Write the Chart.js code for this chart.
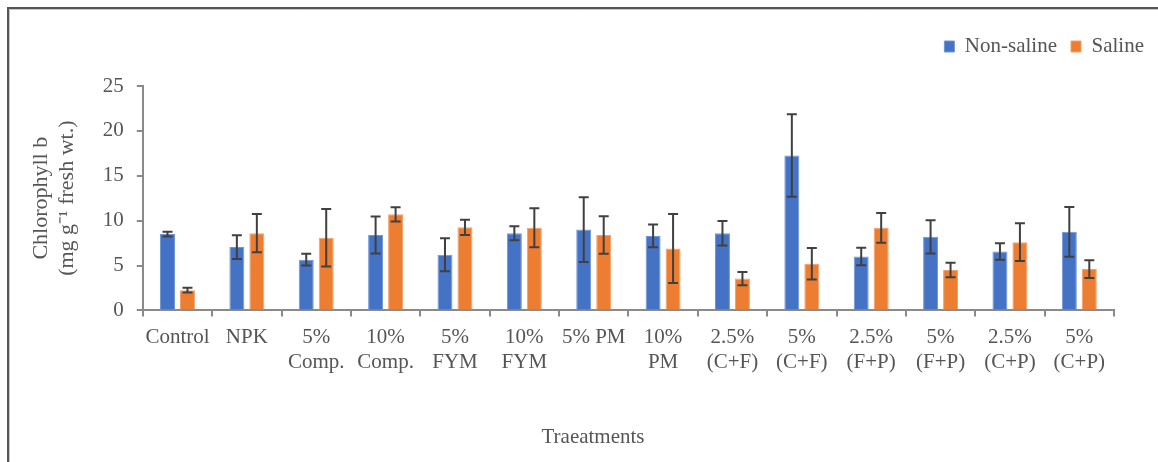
<!DOCTYPE html>
<html>
<head>
<meta charset="utf-8">
<script src="https://cdn.jsdelivr.net/npm/chart.js@4"></script>
<style>
  html, body { margin: 0; padding: 0; background: #fff; }
  #wrap { width: 1158px; height: 462px; position: relative; }
</style>
</head>
<body>
<div id="wrap"><canvas id="chart" width="1158" height="462"></canvas></div>
<script>
// categories along the x axis
const treatments = [
  "Control", "NPK", ["5%", "Comp."], ["10%", "Comp."], ["5%", "FYM"], ["10%", "FYM"],
  "5% PM", ["10%", "PM"], ["2.5%", "(C+F)"], ["5%", "(C+F)"], ["2.5%", "(F+P)"],
  ["5%", "(F+P)"], ["2.5%", "(C+P)"], ["5%", "(C+P)"]
];

// means
const nonSaline = [8.5, 7.05, 5.65, 8.4, 6.2, 8.6, 9.0, 8.3, 8.6, 17.25, 6.0, 8.2, 6.55, 8.75];
const saline    = [2.25, 8.6, 8.1, 10.7, 9.25, 9.2, 8.4, 6.9, 3.55, 5.2, 9.2, 4.5, 7.6, 4.6];

// half-length of the error bars
const nonSalineErr = [0.26, 1.33, 0.65, 2.07, 1.85, 0.78, 3.6, 1.27, 1.37, 4.6, 0.98, 1.85, 0.92, 2.76];
const salineErr    = [0.26, 2.13, 3.2, 0.8, 0.85, 2.17, 2.1, 3.85, 0.74, 1.76, 1.65, 0.8, 2.1, 1.0];

const yTicks = [0, 5, 10, 15, 20, 25];

const FONT = "'Liberation Serif', 'Times New Roman', serif";
const TXT = "#555555";

// error bars, drawn through the bar elements and the y scale
const errorBars = {
  id: "errorBars",
  afterDatasetsDraw(chart) {
    const ctx = chart.ctx;
    const y = chart.scales.y;
    ctx.save();
    ctx.strokeStyle = "#404040";
    ctx.lineWidth = 2;
    chart.data.datasets.forEach((ds, i) => {
      const meta = chart.getDatasetMeta(i);
      meta.data.forEach((bar, j) => {
        const v = ds.data[j], e = ds.errors[j];
        const top = y.getPixelForValue(v + e);
        const bot = y.getPixelForValue(v - e);
        ctx.beginPath();
        ctx.moveTo(bar.x, top); ctx.lineTo(bar.x, bot);
        ctx.moveTo(bar.x - 5, top); ctx.lineTo(bar.x + 5, top);
        ctx.moveTo(bar.x - 5, bot); ctx.lineTo(bar.x + 5, bot);
        ctx.stroke();
      });
    });
    ctx.restore();
  }
};

// the frame line on the left and top
const frame = {
  id: "frame",
  beforeDraw(chart) {
    const ctx = chart.ctx;
    ctx.save();
    ctx.fillStyle = "#fff";
    ctx.fillRect(0, 0, chart.width, chart.height);
    ctx.strokeStyle = "#555";
    ctx.lineWidth = 2;
    ctx.beginPath();
    ctx.moveTo(8, chart.height); ctx.lineTo(8, 8); ctx.lineTo(chart.width, 8);
    ctx.stroke();
    ctx.strokeStyle = "#c8c8c8";
    ctx.lineWidth = 1;
    ctx.beginPath();
    ctx.moveTo(9.5, chart.height); ctx.lineTo(9.5, 9.5); ctx.lineTo(chart.width, 9.5);
    ctx.stroke();
    ctx.restore();
  }
};

new Chart(document.getElementById("chart"), {
  type: "bar",
  data: {
    labels: treatments,
    datasets: [
      { label: "Non-saline", data: nonSaline, errors: nonSalineErr,
        backgroundColor: "#4472C4", borderColor: "#7096d8", borderWidth: 1,
        categoryPercentage: 0.576, barPercentage: 0.75 },
      { label: "Saline", data: saline, errors: salineErr,
        backgroundColor: "#ED7D31", borderColor: "#f4a06a", borderWidth: 1,
        categoryPercentage: 0.576, barPercentage: 0.75 }
    ]
  },
  options: {
    responsive: false,
    animation: false,
    layout: { padding: { left: 28, right: 0, top: 22, bottom: 0 } },
    plugins: {
      legend: {
        position: "top",
        align: "end",
        labels: {
          boxWidth: 10, boxHeight: 11, padding: 14,
          color: TXT, font: { family: FONT, size: 21 }
        }
      },
      title: {
        display: true,
        position: "bottom",
        text: "Traeatments",
        color: TXT,
        font: { family: FONT, size: 21, weight: "normal" },
        padding: { top: 42, bottom: 12 }
      },
      tooltip: { enabled: false }
    },
    scales: {
      x: {
        grid: { display: true, drawOnChartArea: false, drawTicks: true, tickLength: 6, color: "#8a8a8a", lineWidth: 2 },
        border: { color: "#8a8a8a", width: 2 },
        ticks: { color: TXT, font: { family: FONT, size: 21 }, padding: 8, maxRotation: 0, autoSkip: false }
      },
      xT: {
        position: "top",
        grid: { display: false },
        border: { display: false },
        ticks: { display: false },
        afterFit: s => { s.height = 19; }
      },
      y: {
        min: 0, max: 25,
        afterBuildTicks: s => { s.ticks = yTicks.map(v => ({ value: v })); },
        grid: { display: true, drawOnChartArea: false, drawTicks: true, tickLength: 6, color: "#8a8a8a", lineWidth: 2 },
        border: { color: "#8a8a8a", width: 2 },
        ticks: { color: TXT, font: { family: FONT, size: 21 }, padding: 13 },
        title: {
          display: true,
          text: ["Chlorophyll b", "(mg g\u207B\u00B9 fresh wt.)"],
          color: TXT,
          font: { family: FONT, size: 22 },
          padding: { top: 0, bottom: 9 }
        }
      },
      yR: {
        position: "right",
        grid: { display: false },
        border: { display: false },
        ticks: { display: false },
        afterFit: s => { s.width = 44; }
      }
    }
  },
  plugins: [frame, errorBars]
});
</script>
</body>
</html>
